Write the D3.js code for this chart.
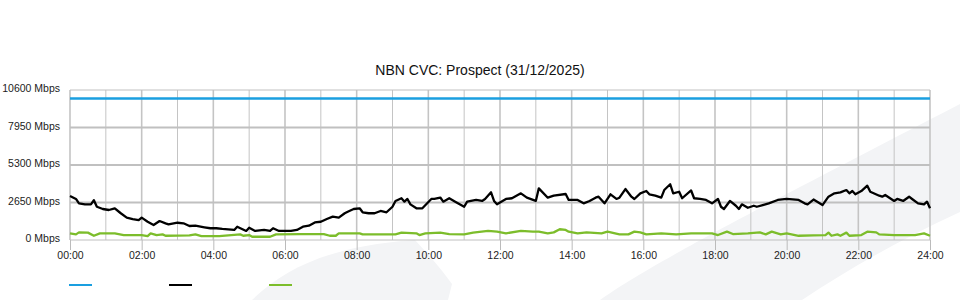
<!DOCTYPE html>
<html>
<head>
<meta charset="utf-8">
<script src="https://cdn.jsdelivr.net/npm/d3@7/dist/d3.min.js"></script>
<style>
  body { margin: 0; background: #fff; }
  svg { display: block; font-family: "Liberation Sans", Arial, sans-serif; }
  .axis text { font-size: 10.5px; fill: #222; }
  .axis .domain { display: none; }
</style>
</head>
<body>
<svg id="chart" width="960" height="300"></svg>
<script>
// data: minutes since 00:00 and Mbps
var chartTitle = 'NBN CVC: Prospect (31/12/2025)';
var yTicks = [0, 2650, 5300, 7950, 10600];
var xTickLabels = ['00:00', '02:00', '04:00', '06:00', '08:00', '10:00', '12:00',
  '14:00', '16:00', '18:00', '20:00', '22:00', '24:00'];

// capacity (blue)
var capTimes = [0, 1440];
var capValues = [10000, 10000];

// traffic (black)
var trafficTimes = [0, 10, 15, 25, 35, 40, 45, 55, 65, 75, 85, 95, 105, 115, 120, 130, 140, 150, 160, 165,
  180, 190, 200, 210, 225, 235, 245, 255, 275, 280, 295, 300, 310, 325, 335, 340, 350, 370, 380, 390,
  400, 410, 420, 430, 440, 450, 460, 465, 475, 485, 490, 500, 510, 520, 530, 540, 545, 555, 560, 565,
  570, 580, 590, 605, 610, 620, 625, 635, 645, 660, 665, 680, 690, 695, 705, 710, 715, 730, 740, 755,
  765, 780, 785, 800, 810, 830, 835, 850, 860, 870, 880, 885, 895, 905, 915, 920, 930, 940, 945, 955,
  965, 970, 980, 990, 995, 1005, 1010, 1020, 1025, 1040, 1045, 1055, 1065, 1075, 1085, 1090, 1095, 1105, 1115, 1120,
  1125, 1135, 1145, 1150, 1160, 1170, 1185, 1200, 1220, 1230, 1235, 1245, 1260, 1270, 1280, 1290, 1300, 1305, 1310, 1315,
  1325, 1335, 1340, 1355, 1360, 1365, 1380, 1385, 1395, 1405, 1410, 1420, 1430, 1435, 1440];
var trafficValues = [3110, 2900, 2590, 2520, 2520, 2810, 2350, 2190, 2120, 2240, 1890, 1580, 1480, 1410, 1580, 1290, 1060, 1340, 1180, 1110,
  1220, 1180, 990, 1010, 900, 830, 830, 780, 710, 940, 640, 870, 640, 710, 640, 830, 640, 640, 710, 940,
  1010, 1240, 1290, 1480, 1650, 1580, 1890, 2000, 2190, 2240, 1960, 1890, 1890, 2050, 1960, 2350, 2760, 2950, 2710, 2900,
  2520, 2240, 2240, 2900, 2900, 3000, 2710, 2950, 2710, 2350, 2710, 2830, 2760, 2900, 3370, 2760, 2520, 2900, 2950, 3300,
  2990, 2760, 3650, 2990, 3130, 3250, 2830, 2830, 2590, 2760, 2990, 3060, 2590, 3230, 2900, 2990, 3600, 3060, 2900, 3300,
  3460, 3230, 3130, 2990, 3530, 3940, 3300, 3410, 2950, 3500, 2950, 2900, 2830, 2590, 2900, 2350, 2190, 2760, 2420, 2190,
  2520, 2280, 2420, 2350, 2470, 2590, 2830, 2900, 2830, 2590, 2520, 2860, 2470, 3060, 3300, 3370, 3530, 3300, 3460, 3230,
  3460, 3840, 3410, 3130, 3060, 3180, 2760, 2900, 2760, 3060, 2900, 2590, 2520, 2710, 2240];

// second series (green)
var greenTimes = [0, 10, 15, 30, 40, 50, 75, 90, 120, 130, 135, 145, 155, 160, 200, 210, 220, 250, 270, 285,
  290, 300, 305, 335, 345, 385, 410, 425, 435, 445, 450, 485, 490, 545, 555, 580, 585, 595, 620, 635,
  660, 675, 700, 715, 730, 755, 775, 785, 800, 810, 820, 830, 835, 850, 865, 890, 900, 920, 935, 945,
  955, 965, 990, 1015, 1040, 1075, 1085, 1100, 1110, 1135, 1155, 1165, 1175, 1190, 1200, 1220, 1245, 1265, 1270, 1275,
  1285, 1290, 1300, 1305, 1325, 1335, 1350, 1355, 1380, 1415, 1430, 1440];
var greenValues = [470, 400, 540, 520, 300, 470, 470, 350, 350, 280, 470, 350, 400, 300, 320, 400, 280, 280, 350, 400,
  300, 350, 230, 230, 400, 420, 420, 420, 300, 300, 470, 470, 400, 400, 520, 470, 350, 470, 520, 420,
  400, 520, 640, 590, 470, 640, 590, 590, 470, 540, 760, 710, 590, 470, 540, 470, 590, 400, 400, 590,
  540, 400, 470, 400, 470, 470, 350, 590, 420, 470, 540, 400, 590, 400, 470, 300, 320, 350, 520, 300,
  400, 300, 520, 300, 350, 590, 540, 400, 350, 350, 470, 300];

var seriesColors = ['#1a9fe0', '#000000', '#7cbd2b'];

// margin & size
var margin = {top: 90, right: 30, bottom: 60, left: 70},
  width = 960 - margin.left - margin.right,
  height = 300 - margin.top - margin.bottom;

var svg = d3.select('#chart');

// background watermark shapes
svg.append('path')
  .attr('d', 'M600,300 C640,272 700,238 960,104 L960,212 C900,240 850,268 802,300 Z')
  .attr('fill', '#f3f4f6');
svg.append('path')
  .attr('d', 'M252,300 C285,268 330,246 415,240 C430,256 442,270 452,284 L448,300 Z')
  .attr('fill', '#f3f4f6');

var x = d3.scaleLinear()
  .domain([0, 1440])
  .range([0, width]);

var y = d3.scaleLinear()
  .domain([0, 10600])
  .range([height, 0]);

var container = svg.append('g')
  .attr('transform', 'translate(' + margin.left + ',' + margin.top + ')');

// vertical grid, one per hour
var hours = d3.range(0, 25);
container.selectAll('.vgrid')
  .data(hours)
  .enter().append('line')
  .attr('class', 'vgrid')
  .attr('x1', function(d) { return x(d * 60); })
  .attr('x2', function(d) { return x(d * 60); })
  .attr('y1', 0)
  .attr('y2', height)
  .attr('stroke', '#c4c4c4')
  .attr('stroke-width', function(d) { return d % 2 === 0 ? 1.6 : 1; });

// horizontal grid
container.selectAll('.hgrid')
  .data(yTicks)
  .enter().append('line')
  .attr('class', 'hgrid')
  .attr('x1', 0)
  .attr('x2', width)
  .attr('y1', function(d) { return y(d); })
  .attr('y2', function(d) { return y(d); })
  .attr('stroke', '#c0c0c0')
  .attr('stroke-width', function(d, i) { return (i === 0 || i === yTicks.length - 1) ? 1 : 2; });

// axes
var xAxis = d3.axisBottom(x)
  .tickValues(xTickLabels.map(function(d, i) { return i * 120; }))
  .tickFormat(function(d, i) { return xTickLabels[i]; })
  .tickSize(10)
  .tickPadding(2);

container.append('g')
  .attr('class', 'x axis')
  .attr('transform', 'translate(0,' + height + ')')
  .call(xAxis)
  .selectAll('line').attr('stroke', '#bbb');

var yAxis = d3.axisLeft(y)
  .tickValues(yTicks)
  .tickFormat(function(d) { return d + ' Mbps'; })
  .tickSize(0)
  .tickPadding(10);

container.append('g')
  .attr('class', 'y axis')
  .call(yAxis)
  .selectAll('text').attr('dy', '0.15em');

// lines
var line = d3.line()
  .x(function(d) { return x(d[0]); })
  .y(function(d) { return y(d[1]); });

function pairs(t, v) {
  return t.map(function(d, i) { return [d, v[i]]; });
}

var series = [
  {pts: pairs(capTimes, capValues), color: seriesColors[0]},
  {pts: pairs(greenTimes, greenValues), color: seriesColors[2]},
  {pts: pairs(trafficTimes, trafficValues), color: seriesColors[1]}
];

container.selectAll('.series')
  .data(series)
  .enter().append('path')
  .attr('class', 'series')
  .attr('fill', 'none')
  .attr('stroke', function(d) { return d.color; })
  .attr('stroke-width', 2.3)
  .attr('stroke-linejoin', 'round')
  .attr('d', function(d) { return line(d.pts); });

// title
svg.append('text')
  .attr('x', 480)
  .attr('y', 75)
  .attr('text-anchor', 'middle')
  .attr('font-size', '14px')
  .attr('fill', '#111')
  .text(chartTitle);

// legend (swatches only)
svg.selectAll('.legend')
  .data(seriesColors)
  .enter().append('line')
  .attr('class', 'legend')
  .attr('x1', function(d, i) { return 69 + i * 100; })
  .attr('x2', function(d, i) { return 92 + i * 100; })
  .attr('y1', 285)
  .attr('y2', 285)
  .attr('stroke', function(d) { return d; })
  .attr('stroke-width', 2);
</script>
</body>
</html>
